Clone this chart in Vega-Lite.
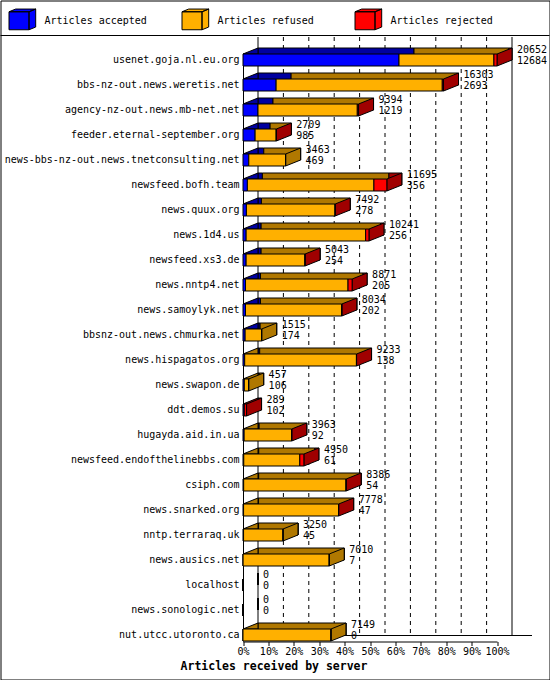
{
  "$schema": "https://vega.github.io/schema/vega-lite/v6.json",
  "autosize": {"type": "none"},
  "padding": 0.5,
  "width": 549,
  "height": 679,
  "background": "white",
  "data": {
    "values": [
      {"server": "usenet.goja.nl.eu.org", "total": 20652, "accepted": 12684, "refused": 7718, "rejected": 250},
      {"server": "bbs-nz-out.news.weretis.net", "total": 16303, "accepted": 2693, "refused": 13510, "rejected": 100},
      {"server": "agency-nz-out.news.mb-net.net", "total": 9394, "accepted": 1219, "refused": 8075, "rejected": 100},
      {"server": "feeder.eternal-september.org", "total": 2709, "accepted": 985, "refused": 1714, "rejected": 10},
      {"server": "news-bbs-nz-out.news.tnetconsulting.net", "total": 3463, "accepted": 469, "refused": 2994, "rejected": 0},
      {"server": "newsfeed.bofh.team", "total": 11695, "accepted": 356, "refused": 10289, "rejected": 1050},
      {"server": "news.quux.org", "total": 7492, "accepted": 278, "refused": 7204, "rejected": 10},
      {"server": "news.1d4.us", "total": 10241, "accepted": 256, "refused": 9715, "rejected": 270},
      {"server": "newsfeed.xs3.de", "total": 5043, "accepted": 254, "refused": 4779, "rejected": 10},
      {"server": "news.nntp4.net", "total": 8871, "accepted": 205, "refused": 8336, "rejected": 330},
      {"server": "news.samoylyk.net", "total": 8034, "accepted": 202, "refused": 7822, "rejected": 10},
      {"server": "bbsnz-out.news.chmurka.net", "total": 1515, "accepted": 174, "refused": 1341, "rejected": 0},
      {"server": "news.hispagatos.org", "total": 9233, "accepted": 138, "refused": 9085, "rejected": 10},
      {"server": "news.swapon.de", "total": 457, "accepted": 106, "refused": 351, "rejected": 0},
      {"server": "ddt.demos.su", "total": 289, "accepted": 102, "refused": 0, "rejected": 187},
      {"server": "hugayda.aid.in.ua", "total": 3963, "accepted": 92, "refused": 3861, "rejected": 10},
      {"server": "newsfeed.endofthelinebbs.com", "total": 4950, "accepted": 61, "refused": 4559, "rejected": 330},
      {"server": "csiph.com", "total": 8386, "accepted": 54, "refused": 8322, "rejected": 10},
      {"server": "news.snarked.org", "total": 7778, "accepted": 47, "refused": 7721, "rejected": 10},
      {"server": "nntp.terraraq.uk", "total": 3250, "accepted": 45, "refused": 3205, "rejected": 0},
      {"server": "news.ausics.net", "total": 7010, "accepted": 7, "refused": 7003, "rejected": 0},
      {"server": "localhost", "total": 0, "accepted": 0, "refused": 0, "rejected": 0},
      {"server": "news.sonologic.net", "total": 0, "accepted": 0, "refused": 0, "rejected": 0},
      {"server": "nut.utcc.utoronto.ca", "total": 7149, "accepted": 0, "refused": 7149, "rejected": 0}
    ]
  },
  "encoding": {
    "y": {
      "field": "server",
      "type": "nominal",
      "sort": null,
      "scale": {
        "domain": [
          "usenet.goja.nl.eu.org", "bbs-nz-out.news.weretis.net", "agency-nz-out.news.mb-net.net",
          "feeder.eternal-september.org", "news-bbs-nz-out.news.tnetconsulting.net", "newsfeed.bofh.team",
          "news.quux.org", "news.1d4.us", "newsfeed.xs3.de", "news.nntp4.net", "news.samoylyk.net",
          "bbsnz-out.news.chmurka.net", "news.hispagatos.org", "news.swapon.de", "ddt.demos.su",
          "hugayda.aid.in.ua", "newsfeed.endofthelinebbs.com", "csiph.com", "news.snarked.org",
          "nntp.terraraq.uk", "news.ausics.net", "localhost", "news.sonologic.net", "nut.utcc.utoronto.ca"
        ],
        "range": [53.5, 640.5],
        "paddingInner": 0.52,
        "paddingOuter": 0
      },
      "axis": {
        "title": null,
        "offset": -242.5,
        "ticks": false,
        "labelPadding": 4,
        "labelLimit": 300,
        "labelFont": "DejaVu Sans Mono",
        "labelFontSize": 10,
        "labelColor": "black",
        "domainColor": "black"
      }
    }
  },
  "layer": [
    {
      "data": {"values": [{"line": "legend box"}]},
      "mark": {"type": "rule", "color": "black", "yOffset": -24.5},
      "encoding": {
        "y": {"datum": "usenet.goja.nl.eu.org"}
      }
    },
    {
      "data": {"values": [{"at": 2065.2}, {"at": 4130.4}, {"at": 6195.6}, {"at": 8260.8}, {"at": 10326}, {"at": 12391.2}, {"at": 14456.4}, {"at": 16521.6}, {"at": 18586.8}]},
      "mark": {"type": "rule", "color": "black", "strokeDash": [4, 4], "xOffset": 15, "yOffset": -23, "y2Offset": 1},
      "encoding": {
        "x": {
          "field": "at",
          "type": "quantitative",
          "scale": {"domain": [0, 20652], "range": [242.5, 496.5], "nice": false, "zero": true},
          "axis": {
            "values": [0, 2065.2, 4130.4, 6195.6, 8260.8, 10326, 12391.2, 14456.4, 16521.6, 18586.8, 20652],
            "labelExpr": "round(datum.value / 206.52) + '%'",
            "offset": -38,
            "grid": false,
            "tickSize": 4,
            "tickColor": "black",
            "domainColor": "black",
            "labelPadding": 1,
            "labelFlush": false,
            "labelOverlap": false,
            "labelFont": "DejaVu Sans Mono",
            "labelFontSize": 10,
            "labelColor": "black",
            "title": "Articles received by server",
            "titleFont": "DejaVu Sans Mono",
            "titleFontSize": 11.5,
            "titleFontWeight": "bold",
            "titleColor": "black",
            "titleX": 273,
            "titleY": 25,
            "titleAlign": "center",
            "titleBaseline": "middle"
          }
        },
        "y": {"datum": "usenet.goja.nl.eu.org"},
        "y2": {"datum": "nut.utcc.utoronto.ca"}
      }
    },
    {
      "data": {"values": [{"at": 0}, {"at": 20652}]},
      "mark": {"type": "rule", "color": "black", "xOffset": 15, "yOffset": -23, "y2Offset": 1},
      "encoding": {
        "x": {"field": "at", "type": "quantitative"},
        "y": {"datum": "usenet.goja.nl.eu.org"},
        "y2": {"datum": "nut.utcc.utoronto.ca"}
      }
    },
    {
      "data": {"values": [{"from": 0, "to": 20652}]},
      "mark": {"type": "rule", "color": "black", "xOffset": 15, "x2Offset": 35, "yOffset": 0.5},
      "encoding": {
        "x": {"field": "from", "type": "quantitative"},
        "x2": {"field": "to"},
        "y": {"datum": "nut.utcc.utoronto.ca"}
      }
    },
    {
      "transform": [{"fold": ["accepted", "refused", "rejected"], "as": ["kind", "count"]}],
      "mark": {"type": "bar", "stroke": "black", "strokeWidth": 1, "xOffset": 15, "x2Offset": 15, "yOffset": -6},
      "encoding": {
        "x": {"field": "count", "type": "quantitative", "stack": "zero"},
        "fill": {
          "field": "kind",
          "type": "nominal",
          "scale": {"domain": ["refused", "accepted", "rejected"], "range": ["#b07800", "#0000a0", "#a00000"]},
          "legend": null
        },
        "order": {"field": "kind"}
      }
    },
    {
      "transform": [
        {"filter": "datum.total > 0"},
        {"calculate": "datum.accepted > 160 ? 'accepted' : datum.refused > 0 ? 'refused' : 'rejected'", "as": "first"}
      ],
      "mark": {"type": "point", "shape": "M0,-0.8L2,-1.6L2,-0.8Z", "size": 225, "filled": true, "opacity": 1, "stroke": "black", "strokeWidth": 1},
      "encoding": {
        "x": {"datum": 0},
        "fill": {"field": "first", "type": "nominal", "legend": null}
      }
    },
    {
      "transform": [
        {"filter": "datum.total > 0"},
        {"calculate": "datum.rejected > 0 ? 'rejected' : datum.refused > 0 ? 'refused' : 'accepted'", "as": "last"}
      ],
      "mark": {"type": "point", "shape": "M0,-0.8L2,-1.6L2,0L0,0.8Z", "size": 225, "filled": true, "opacity": 1, "stroke": "black", "strokeWidth": 1},
      "encoding": {
        "x": {"field": "total", "type": "quantitative"},
        "fill": {"field": "last", "type": "nominal", "legend": null}
      }
    },
    {
      "transform": [{"fold": ["accepted", "refused", "rejected"], "as": ["kind", "count"]}],
      "mark": {"type": "bar", "stroke": "black", "strokeWidth": 1, "opacity": 1},
      "encoding": {
        "x": {"field": "count", "type": "quantitative", "stack": "zero"},
        "color": {
          "field": "kind",
          "type": "nominal",
          "scale": {"domain": ["accepted", "refused", "rejected"], "range": ["#0000ff", "#ffb000", "#ff0000"]},
          "legend": {
            "orient": "none",
            "legendX": 8,
            "legendY": 9.5,
            "direction": "horizontal",
            "columns": 3,
            "gridAlign": "all",
            "columnPadding": 32,
            "padding": 0,
            "title": null,
            "labelExpr": "'Articles ' + datum.label",
            "symbolType": "M-1,-0.9L1,-0.9L1,0.9L-1,0.9Z M-1,-0.9L-0.33,-1.17L1.67,-1.17L1,-0.9Z M1,-0.9L1.67,-1.17L1.67,0.63L1,0.9Z",
            "symbolSize": 400,
            "symbolStrokeColor": "black",
            "symbolStrokeWidth": 1,
            "symbolOpacity": 1,
            "labelFont": "DejaVu Sans Mono",
            "labelFontSize": 10,
            "labelColor": "black",
            "labelOffset": 15
          }
        },
        "order": {"field": "kind"}
      }
    },
    {
      "mark": {"type": "text", "align": "left", "baseline": "middle", "xOffset": 20, "yOffset": -10, "font": "DejaVu Sans Mono", "fontSize": 10, "color": "black"},
      "encoding": {
        "x": {"field": "total", "type": "quantitative"},
        "text": {"field": "total", "type": "quantitative", "format": "d"}
      }
    },
    {
      "mark": {"type": "text", "align": "left", "baseline": "middle", "xOffset": 20, "yOffset": 1, "font": "DejaVu Sans Mono", "fontSize": 10, "color": "black"},
      "encoding": {
        "x": {"field": "total", "type": "quantitative"},
        "text": {"field": "accepted", "type": "quantitative", "format": "d"}
      }
    }
  ],
  "config": {
    "view": {"stroke": "black", "strokeWidth": 1},
    "font": "DejaVu Sans Mono"
  }
}
